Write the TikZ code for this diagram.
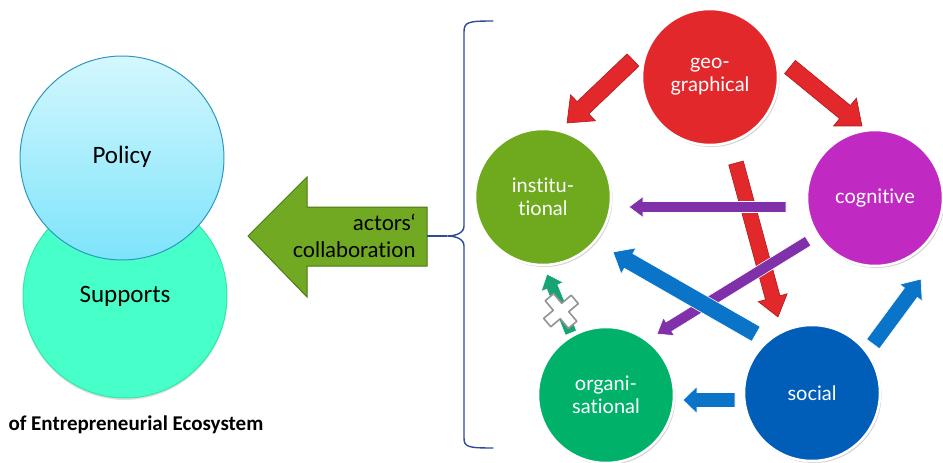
\documentclass[tikz,border=0pt]{standalone}
\usepackage{fontspec}
\setmainfont{Carlito}
\newfontfamily\gillf[Ligatures={NoCommon}]{Lato}
\usetikzlibrary{calc,shadows}
\definecolor{geoc}{HTML}{E2282B}
\definecolor{cogc}{HTML}{C02AC2}
\definecolor{instc}{HTML}{6EA91E}
\definecolor{orgc}{HTML}{00B16A}
\definecolor{socc}{HTML}{005EB8}
\definecolor{redar}{HTML}{E3282C}
\definecolor{redard}{HTML}{B01A1C}
\definecolor{purar}{HTML}{8030A8}
\definecolor{bluar}{HTML}{0A74C9}
\definecolor{tealar}{HTML}{17A374}
\definecolor{polt}{HTML}{D4F7FE}
\definecolor{polb}{HTML}{7DE4FB}
\definecolor{pold}{HTML}{2E97C0}
\definecolor{supf}{HTML}{47FFC9}
\definecolor{supd}{HTML}{33E8A6}
\definecolor{bigg}{HTML}{72A923}
\definecolor{biggd}{HTML}{4C7A14}
\definecolor{bracec}{HTML}{2C4C96}
\newcommand\fatarrow[6]{%
 \path[#6] let \p1=(#1),\p2=(#2),\n1={atan2(\y2-\y1,\x2-\x1)},\n2={veclen(\x2-\x1,\y2-\y1)} in
 [shift={(\p1)},rotate=\n1] (0,{-#3pt/2}) -- ({\n2-#5pt},{-#3pt/2}) -- ({\n2-#5pt},{-#4pt/2}) -- (\n2,0)
 -- ({\n2-#5pt},{#4pt/2}) -- ({\n2-#5pt},{#3pt/2}) -- (0,{#3pt/2}) -- cycle;}
\tikzset{
 bubble/.style={circle, minimum size=136pt, inner sep=0pt, draw=white, line width=2.5pt,
   text=white, align=center, font=\gillf\fontsize{20}{23}\selectfont,
   drop shadow={opacity=0.35, shadow xshift=1.5pt, shadow yshift=-2pt}},
 bigcirc/.style={circle, minimum size=204pt, inner sep=0pt, line width=1pt,
   font=\fontsize{25}{28}\selectfont, text=black},
 redarrow/.style={fill=redar, draw=redard, line width=0.6pt},
 purarrow/.style={fill=purar, draw=white, line width=0.6pt},
 bluarrow/.style={fill=bluar, draw=white, line width=0.6pt},
 tealarrow/.style={fill=tealar, draw=white, line width=0.6pt},
}
\begin{document}
\begin{tikzpicture}[x=1pt,y=1pt]
\useasboundingbox (0,0) rectangle (943,-463);
% left circles
\node[bigcirc, fill=supf, draw=supd, drop shadow={opacity=0.25, shadow xshift=0pt, shadow yshift=-2pt}] (sup) at (125,-296) {};
\node[font=\fontsize{25}{28}\selectfont] (suptext) at (125,-296) {Supports};
\node[bigcirc, top color=polt, bottom color=polb, draw=pold] (pol) at (122,-158) {};
\node[font=\fontsize{25}{28}\selectfont] (poltext) at (122,-157) {Policy};
\node[font=\bfseries\fontsize{21}{23}\selectfont, anchor=west] (eco) at (5,-425) {of Entrepreneurial Ecosystem};
% big green arrow
\path[fill=bigg, draw=biggd, line width=1pt]
 (248,-236) -- (307,-177) -- (307,-207) -- (427,-207) -- (427,-266) -- (307,-266) -- (307,-297) -- cycle;
\node[font=\gillf\fontsize{21.5}{27}\selectfont, align=right, anchor=east] (collab) at (419,-236) {actors‘\\collaboration};
% brace
\coordinate (btip) at (447,-236);
\coordinate (bstart) at (427,-236);
\draw[bracec, line width=1.4pt, line cap=round]
 (493,-21) .. controls (468,-21) and (464,-22) .. (464,-32) -- (464,-226)
 .. controls (464,-233) and (456,-236) .. (btip)
 .. controls (456,-236) and (464,-239) .. (464,-246) -- (464,-438)
 .. controls (464,-447) and (468,-448) .. (493,-448);
\draw[bracec, line width=1.4pt] (bstart) -- (btip);
% bubbles
\node[bubble, fill=geoc] (geo) at (710,-77) {geo-\\graphical};
\node[bubble, fill=cogc] (cog) at (875,-198) {cognitive};
\node[bubble, fill=instc] (inst) at (543,-197) {institu-\\tional};
\node[bubble, fill=orgc] (org) at (606,-395) {organi-\\sational};
\node[bubble, fill=socc] (soc) at (812,-393) {social};
% arrow end points
\coordinate (r1a) at (633,-60); \coordinate (r1b) at (567,-123);
\coordinate (r2a) at (790,-67); \coordinate (r2b) at (862,-126);
\coordinate (r3a) at (736,-163); \coordinate (r3b) at (778,-317);
\coordinate (p1a) at (786,-207); \coordinate (p1b) at (629,-207);
\coordinate (p2a) at (808,-241); \coordinate (p2b) at (657,-334);
\coordinate (b1a) at (756,-334); \coordinate (b1b) at (613,-252);
\coordinate (b2a) at (873,-344); \coordinate (b2b) at (921,-279);
\coordinate (b3a) at (735,-400); \coordinate (b3b) at (683,-400);
\coordinate (t1a) at (571,-333); \coordinate (t1b) at (547,-274);
% red
\fatarrow{r1a}{r1b}{17}{36}{22}{redarrow}
\fatarrow{r2a}{r2b}{17}{36}{22}{redarrow}
\fatarrow{r3a}{r3b}{15}{30}{20}{redarrow}
% purple
\fatarrow{p1a}{p1b}{11}{21}{14}{purarrow}
\fatarrow{p2a}{p2b}{11}{21}{14}{purarrow}
% blue
\fatarrow{b1a}{b1b}{17}{30}{18}{bluarrow}
\fatarrow{b2a}{b2b}{16}{28}{17}{bluarrow}
\fatarrow{b3a}{b3b}{15}{27}{14}{bluarrow}
% teal
\fatarrow{t1a}{t1b}{12}{24}{14}{tealarrow}
% cross
\coordinate (xc) at (561,-311);
\path[fill=white, draw=gray!85, line width=1.6pt, line join=round, shift={(xc)}, rotate=40]
 (-5.5,5.5) -- (-5.5,18) -- (5.5,18) -- (5.5,5.5) -- (18,5.5) -- (18,-5.5) -- (5.5,-5.5) -- (5.5,-18) -- (-5.5,-18) -- (-5.5,-5.5) -- (-18,-5.5) -- (-18,5.5) -- cycle;
\end{tikzpicture}
\end{document}
